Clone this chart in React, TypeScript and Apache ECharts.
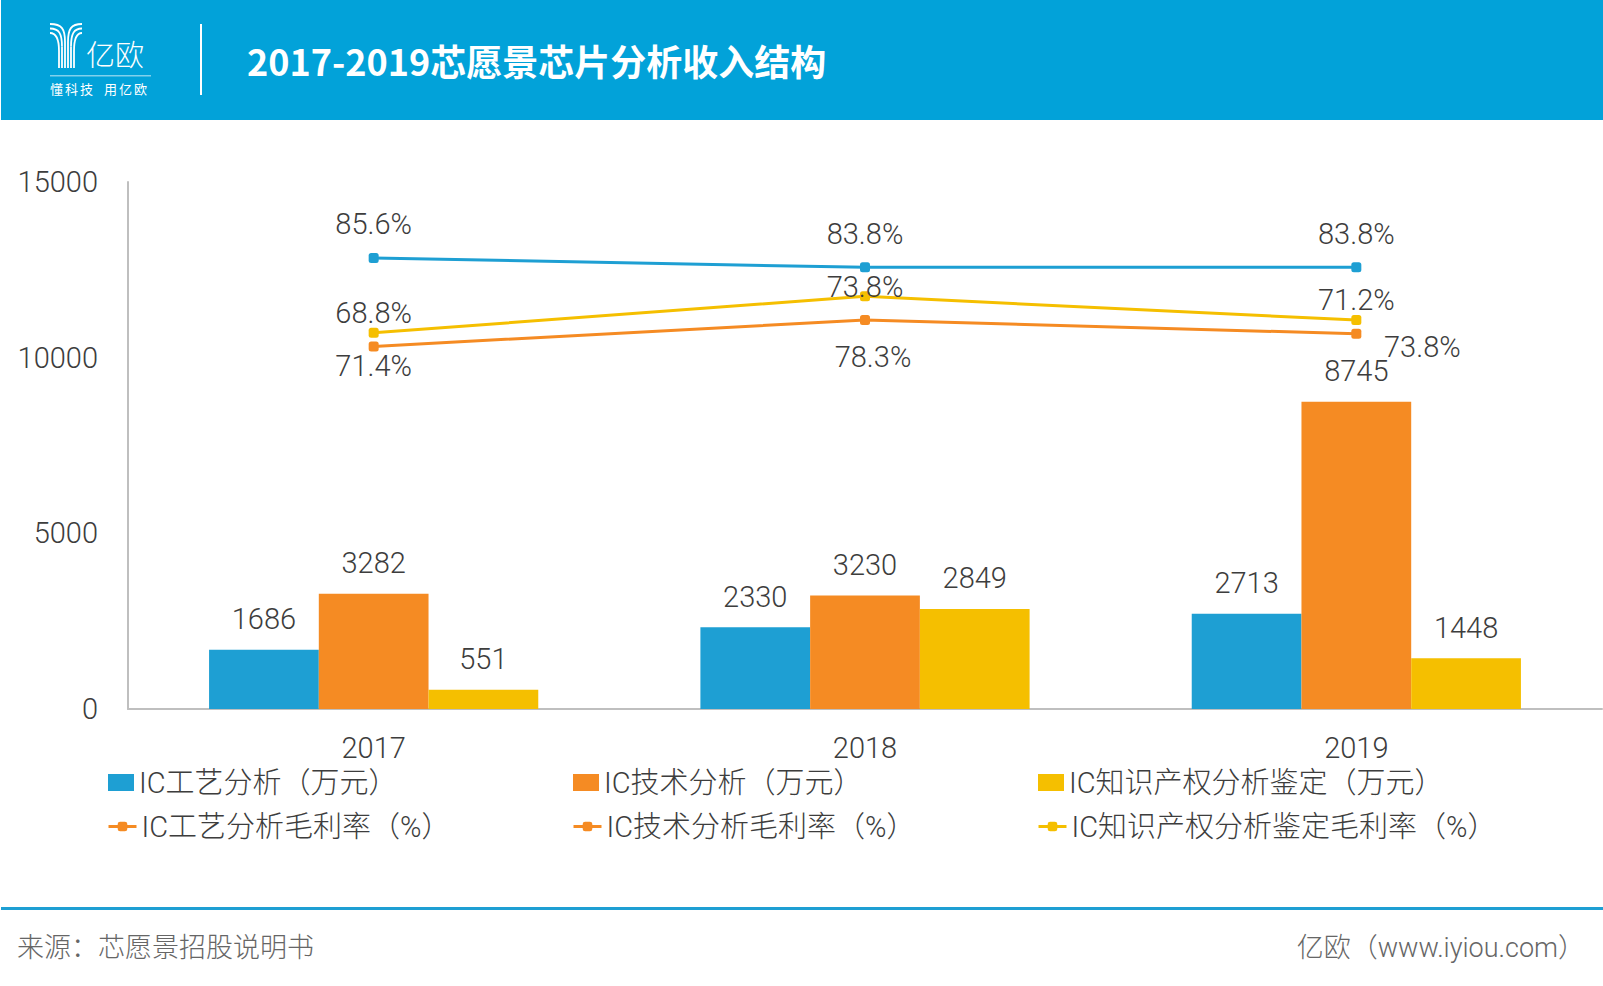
import React from 'react';
import * as echarts from 'echarts';

const years = ['2017', '2018', '2019'];
const processRevenue = [1686, 2330, 2713];
const techRevenue = [3282, 3230, 8745];
const ipRevenue = [551, 2849, 1448];
const processMargin = [85.6, 83.8, 83.8];
const techMargin = [68.8, 73.8, 71.2];
const ipMargin = [71.4, 78.3, 73.8];
const revenueTicks = { min: 0, max: 15000, interval: 5000 };

const TITLE = '2017-2019芯愿景芯片分析收入结构';
const SOURCE = '来源：芯愿景招股说明书';
const BRAND = '亿欧（www.iyiou.com）';

const BLUE = '#1e9fd3';
const ORANGE = '#f58b23';
const YELLOW = '#f5bf00';
const HEADER = '#02a2d9';
const TEXT = '#3d3d3d';
const FONT = 'Roboto, "Noto Sans CJK SC", sans-serif';

const App: React.FC = () => {
  const chartRef = React.useRef<HTMLDivElement>(null);

  React.useEffect(() => {
    document.body.style.margin = '0';
    if (!chartRef.current) return;
    const chart = echarts.init(chartRef.current, undefined, { renderer: 'svg' });

    const label = (position: string, distance: number) => ({
      show: true,
      position,
      distance,
      color: TEXT,
      fontSize: 29,
      fontWeight: 300,
      fontFamily: FONT,
    });

    // logo: Y mark made of parallel strokes
    const logo: any[] = [];
    for (let k = 0; k < 3; k++) {
      const y0 = 24 + 4.5 * k;
      const lx = 65 - 3 * k;
      const rx = 68 + 3 * k;
      const stroke = { stroke: '#fff', lineWidth: 1.8, fill: 'none' };
      logo.push(
        { type: 'bezierCurve', shape: { x1: 50, y1: y0, cpx1: lx - 3, cpy1: y0, cpx2: lx, cpy2: y0 + 5, x2: lx, y2: y0 + 18 }, style: stroke },
        { type: 'line', shape: { x1: lx, y1: y0 + 18, x2: lx, y2: 68 }, style: stroke },
        { type: 'bezierCurve', shape: { x1: 82, y1: y0, cpx1: rx + 3, cpy1: y0, cpx2: rx, cpy2: y0 + 5, x2: rx, y2: y0 + 18 }, style: stroke },
        { type: 'line', shape: { x1: rx, y1: y0 + 18, x2: rx, y2: 68 }, style: stroke },
      );
    }
    const slogan = ['懂', '科', '技', '用', '亿', '欧'].map((ch, i) => ({
      type: 'text',
      x: 50 + i * 15 + (i > 2 ? 9 : 0),
      y: 88,
      style: { text: ch, fill: '#fff', font: '13px "Noto Sans CJK SC"', textVerticalAlign: 'middle' },
    }));

    const legendBase = {
      padding: 0,
      itemGap: 0,
      textStyle: { color: TEXT, fontSize: 29, fontWeight: 300, fontFamily: FONT },
    };
    const barLegend = (name: string, left: number) => ({
      ...legendBase,
      left,
      top: 768,
      itemWidth: 26,
      itemHeight: 17,
      icon: 'rect',
      data: [name],
    });
    const lineLegend = (name: string, color: string, left: number) => ({
      ...legendBase,
      left,
      top: 812,
      itemWidth: 28,
      itemHeight: 12,
      data: [{ name, itemStyle: { color }, lineStyle: { color, width: 3 } }],
    });

    const lineSeries = (name: string, data: any[], color: string, lbl: any) => ({
      name,
      type: 'line',
      yAxisIndex: 1,
      data,
      z: 5,
      symbol: 'roundRect',
      symbolSize: 10,
      lineStyle: { color, width: 3 },
      itemStyle: { color },
      label: { ...lbl, formatter: '{c}%' },
    });

    chart.setOption({
      animation: false,
      backgroundColor: '#fff',
      grid: { left: 128, right: 1, top: 182, height: 527 },
      xAxis: {
        type: 'category',
        data: years,
        axisLine: { lineStyle: { color: '#bfbfbf', width: 2 } },
        axisTick: { show: false },
        axisLabel: { color: TEXT, fontSize: 29, fontWeight: 300, fontFamily: FONT, margin: 24 },
      },
      yAxis: [
        {
          type: 'value',
          ...revenueTicks,
          splitLine: { show: false },
          axisLine: { show: true, lineStyle: { color: '#bfbfbf', width: 2 } },
          axisTick: { show: false },
          axisLabel: {
            color: TEXT, fontSize: 29, fontWeight: 300, fontFamily: FONT, margin: 30,
            formatter: (v: number) => String(v),
          },
        },
        { type: 'value', min: 0, max: 100, show: false, splitLine: { show: false } },
      ],
      legend: [
        barLegend('IC工艺分析（万元）', 108),
        barLegend('IC技术分析（万元）', 573),
        barLegend('IC知识产权分析鉴定（万元）', 1038),
        lineLegend('IC工艺分析毛利率（%）', ORANGE, 107),
        lineLegend('IC技术分析毛利率（%）', ORANGE, 572),
        lineLegend('IC知识产权分析鉴定毛利率（%）', YELLOW, 1037),
      ],
      series: [
        { name: 'IC工艺分析（万元）', type: 'bar', data: processRevenue, itemStyle: { color: BLUE }, barGap: 0, barCategoryGap: '33%', label: label('top', 16) },
        { name: 'IC技术分析（万元）', type: 'bar', data: techRevenue, itemStyle: { color: ORANGE }, label: label('top', 16) },
        { name: 'IC知识产权分析鉴定（万元）', type: 'bar', data: ipRevenue, itemStyle: { color: YELLOW }, label: label('top', 16) },
        lineSeries('IC工艺分析毛利率（%）', processMargin, BLUE, label('top', 14)),
        lineSeries('IC技术分析毛利率（%）', techMargin, ORANGE, label('top', 14)),
        lineSeries(
          'IC知识产权分析鉴定毛利率（%）',
          ipMargin.map((v, i) =>
            i === 0 ? v : { value: v, label: { offset: i === 1 ? [8, 27] : [66, -7] } }),
          YELLOW,
          label('bottom', 14),
        ),
      ],
      graphic: [
        { type: 'rect', shape: { x: 1, y: 0, width: 1602, height: 120 }, style: { fill: HEADER } },
        ...logo,
        {
          type: 'text', x: 86, y: 53,
          style: { text: '亿欧', fill: '#fff', font: '300 29px "Noto Sans CJK SC"', textVerticalAlign: 'middle' },
        },
        { type: 'rect', shape: { x: 50, y: 75, width: 101, height: 1.5 }, style: { fill: 'rgba(255,255,255,0.5)' } },
        ...slogan,
        { type: 'rect', shape: { x: 200, y: 24, width: 2, height: 71 }, style: { fill: '#fff' } },
        {
          type: 'text', x: 247, y: 60,
          style: { text: TITLE, fill: '#fff', font: 'bold 36px "Noto Sans CJK SC"', textVerticalAlign: 'middle' },
        },
        { type: 'rect', shape: { x: 1, y: 907, width: 1602, height: 3 }, style: { fill: BLUE } },
        {
          type: 'text', x: 17, y: 948,
          style: { text: SOURCE, fill: '#666', font: '300 27px Roboto, "Noto Sans CJK SC"', textVerticalAlign: 'middle' },
        },
        {
          type: 'text', x: 1585, y: 948,
          style: { text: BRAND, fill: '#666', font: '300 27px Roboto, "Noto Sans CJK SC"', textAlign: 'right', textVerticalAlign: 'middle' },
        },
      ],
    });

    return () => chart.dispose();
  }, []);

  return <div ref={chartRef} style={{ width: 1603, height: 986 }} />;
};

export default App;
